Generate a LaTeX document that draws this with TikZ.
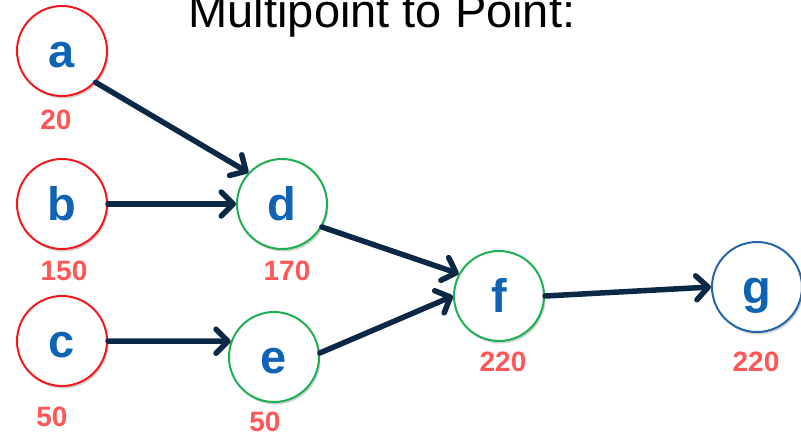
\documentclass[tikz,border=0pt]{standalone}
\usepackage{fontspec}
\setmainfont{Liberation Sans}
\usetikzlibrary{arrows.meta,shadows}
\definecolor{nodered}{HTML}{F0191E}
\definecolor{nodegreen}{HTML}{1DAF50}
\definecolor{nodeblue}{HTML}{2467A8}
\definecolor{lettblue}{HTML}{0E63B4}
\definecolor{labred}{HTML}{FF5757}
\definecolor{navy}{HTML}{0C2847}
\tikzset{
  vtx/.style={circle, draw, line width=2pt, fill=white, minimum size=90pt, inner sep=0pt,
    text=lettblue, font=\fontsize{47}{47}\selectfont\bfseries,
    text height=33pt, text depth=0pt,
    drop shadow={shadow xshift=1.5pt, shadow yshift=-2.5pt, opacity=0.18, fill=black}},
  srcv/.style={vtx, draw=nodered},
  midv/.style={vtx, draw=nodegreen},
  dstv/.style={vtx, draw=nodeblue},
  val/.style={text=labred, font=\fontsize{28}{28}\selectfont\bfseries, inner sep=0pt,
    text height=20pt, text depth=0pt, anchor=center},
  link/.style={draw=navy, line width=5.5pt, line cap=round,
    -{Straight Barb[length=12pt, width=24pt, line cap=round, line join=round]}},
}
\begin{document}
\begin{tikzpicture}[x=1pt, y=-1pt]
\useasboundingbox (0,0) rectangle (801,434);
\node[anchor=base, inner sep=0pt, font=\fontsize{47}{47}\selectfont] (title) at (382,27) {Multipoint to Point:};

\node[srcv] (a) at (62,51) {a};
\node[srcv] (b) at (62,204) {b};
\node[srcv] (c) at (62,341) {c};
\node[midv] (d) at (282,204) {d};
\node[midv] (e) at (274,357) {e};
\node[midv] (f) at (499,296) {f};
\node[dstv] (g) at (757,287) {g};

\node[val] (la) at (56,119) {20};
\node[val] (lb) at (64,270) {150};
\node[val] (lc) at (52,416) {50};
\node[val] (ld) at (287,270) {170};
\node[val] (le) at (265,421) {50};
\node[val] (lf) at (503,361) {220};
\node[val] (lg) at (756,361) {220};

\draw[link] (a.-43) -- (d.137);
\draw[link] (b.east) -- (d.west);
\draw[link] (c.east) -- (e.160);
\draw[link] (d.-30) -- (f.151);
\draw[link] (e.5) -- (f.180);
\draw[link] (f.east) -- (g.west);
\end{tikzpicture}
\end{document}
